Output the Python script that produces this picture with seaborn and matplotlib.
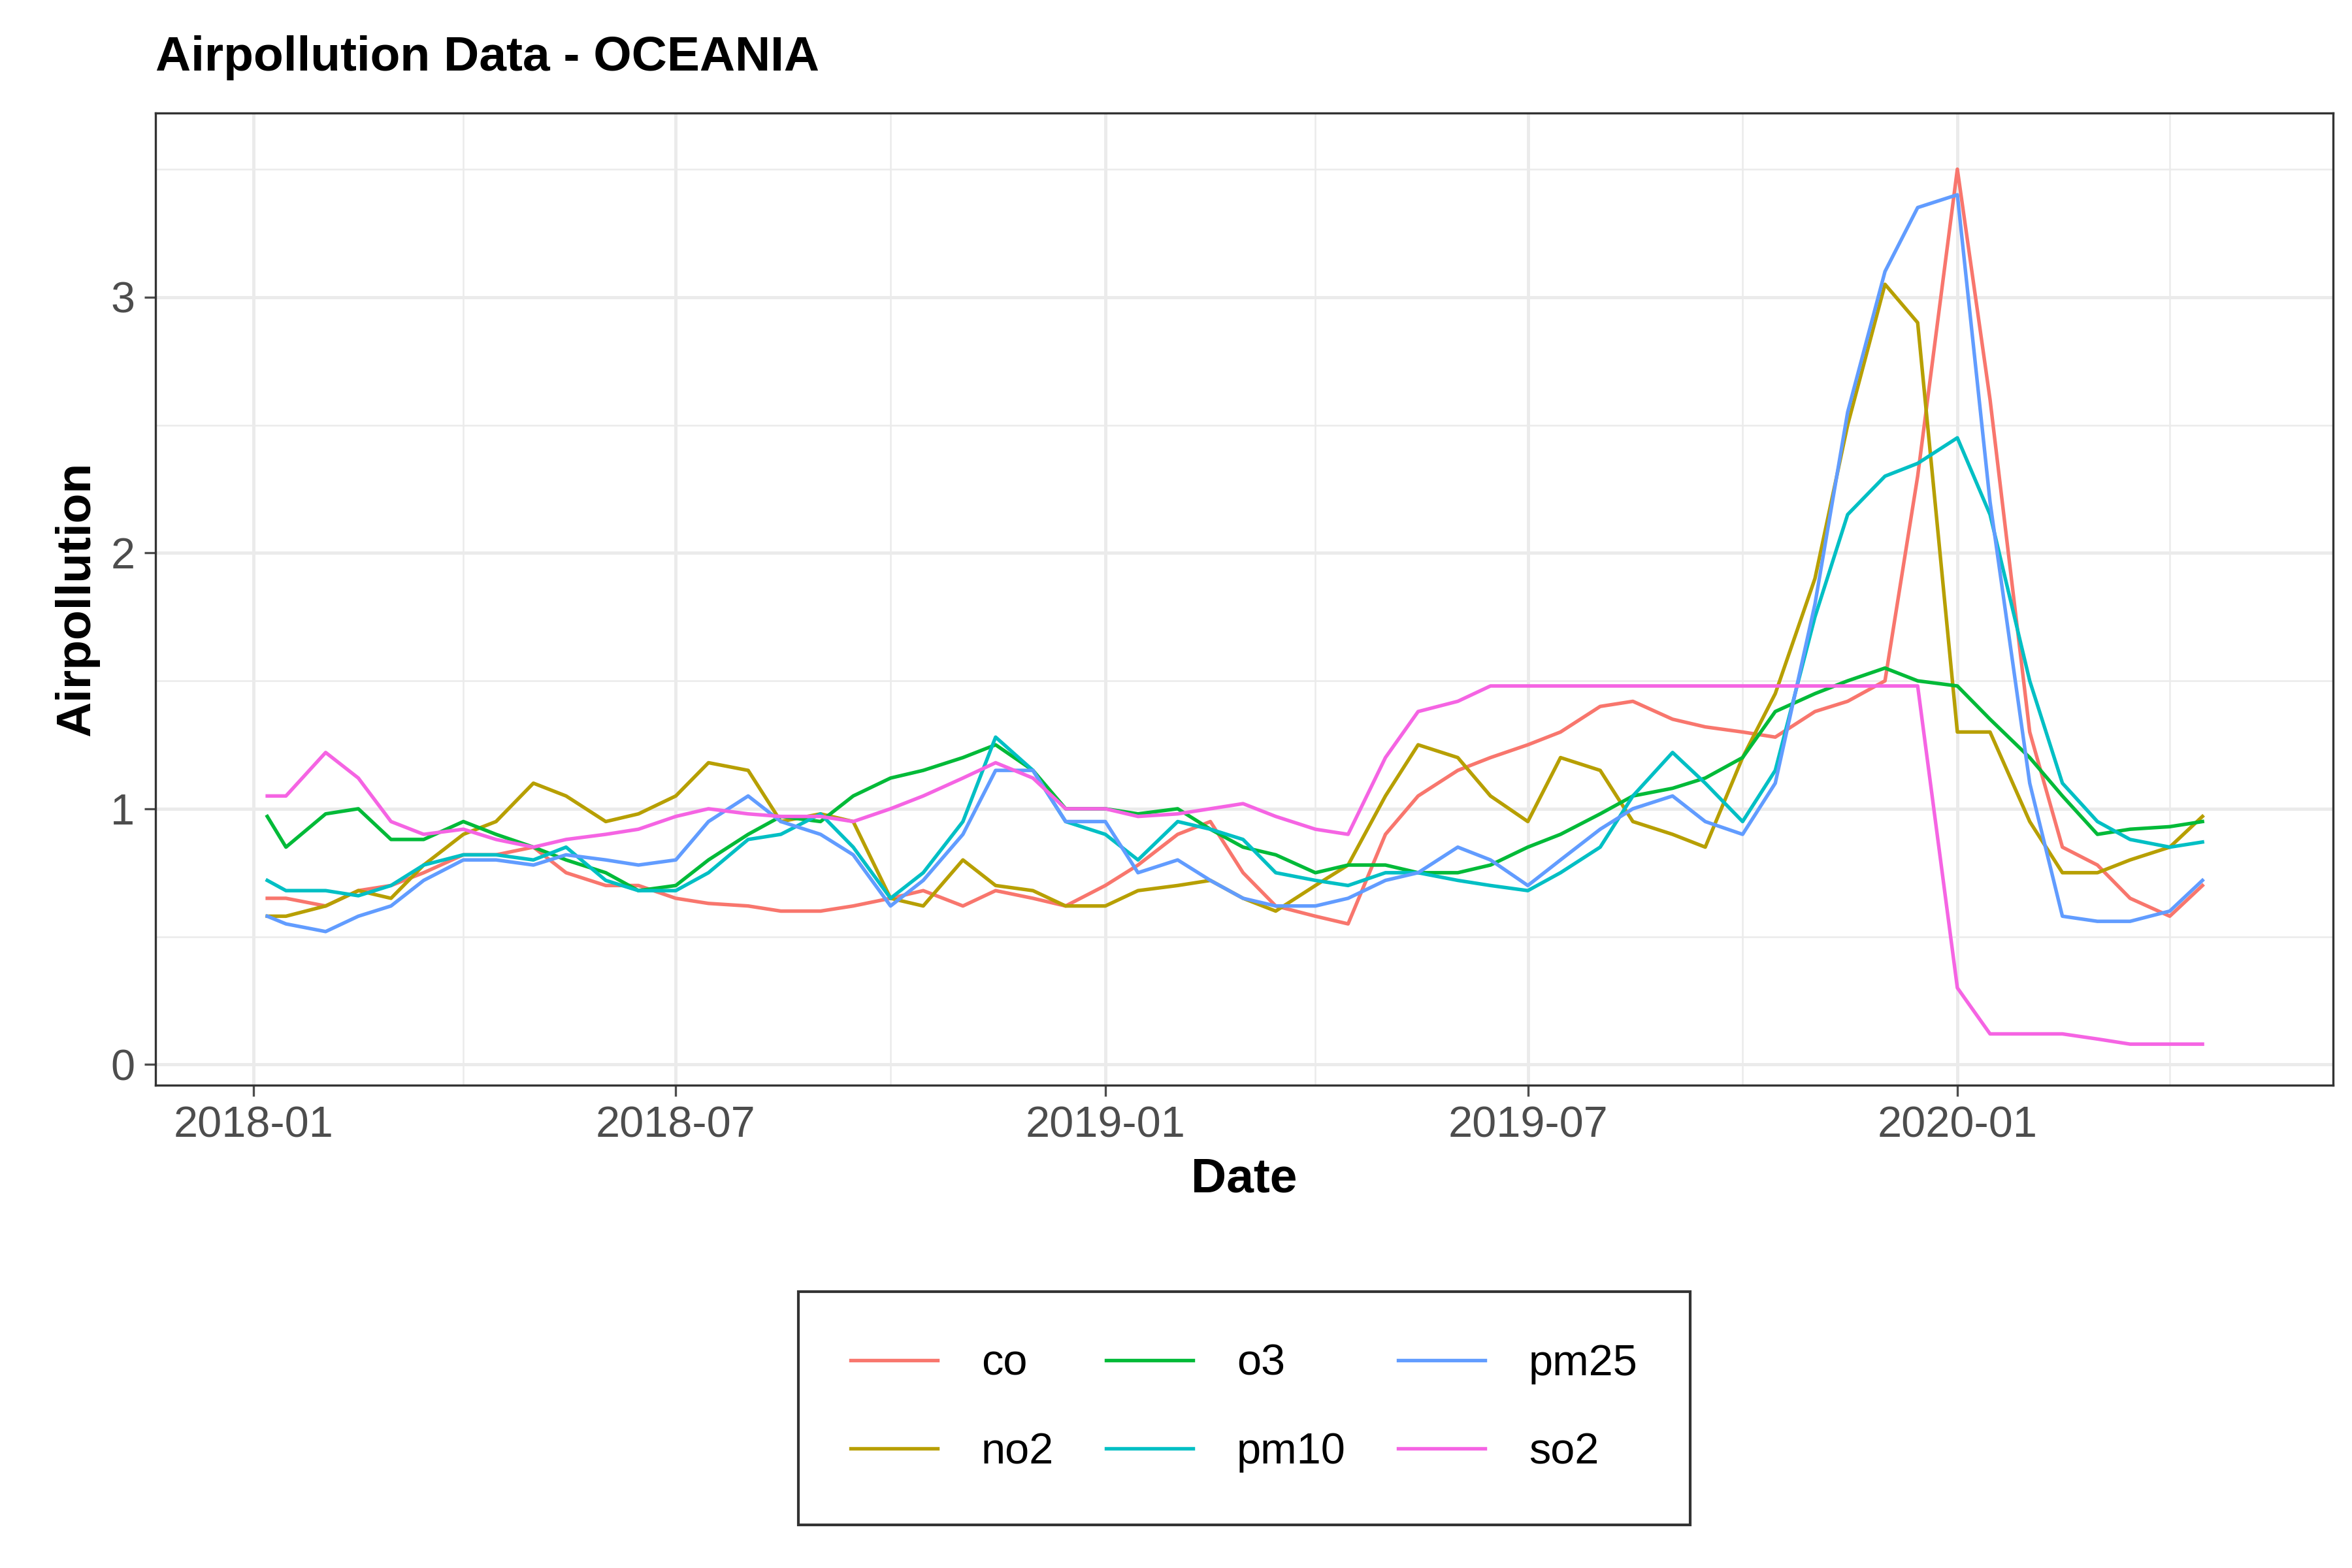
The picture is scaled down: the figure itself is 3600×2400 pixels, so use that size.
import matplotlib

matplotlib.use("Agg")
import matplotlib.pyplot as plt  # noqa: E402
import matplotlib.dates as mdates  # noqa: E402
import seaborn as sns  # noqa: E402
import pandas as pd  # noqa: E402

dates = ["2018-01-07", "2018-01-15"]
for y in (2018, 2019):
    for m in range(1, 13):
        if y == 2018 and m == 1:
            continue
        dates += [f"{y}-{m:02d}-01", f"{y}-{m:02d}-15"]
dates += [f"2020-{m:02d}-{d}" for m in range(1, 5) for d in ("01", "15")]

co = [0.65, 0.65, 0.62, 0.68, 0.70, 0.75, 0.82, 0.82, 0.85, 0.75, 0.70, 0.70,
      0.65, 0.63, 0.62, 0.60, 0.60, 0.62, 0.65, 0.68, 0.62, 0.68, 0.65, 0.62,
      0.70, 0.78, 0.90, 0.95, 0.75, 0.62, 0.58, 0.55, 0.90, 1.05, 1.15, 1.20,
      1.25, 1.30, 1.40, 1.42, 1.35, 1.32, 1.30, 1.28, 1.38, 1.42, 1.50, 2.30,
      3.50, 2.60, 1.30, 0.85, 0.78, 0.65, 0.58, 0.70]
no2 = [0.58, 0.58, 0.62, 0.68, 0.65, 0.78, 0.90, 0.95, 1.10, 1.05, 0.95, 0.98,
       1.05, 1.18, 1.15, 0.95, 0.98, 0.95, 0.65, 0.62, 0.80, 0.70, 0.68, 0.62,
       0.62, 0.68, 0.70, 0.72, 0.65, 0.60, 0.70, 0.78, 1.05, 1.25, 1.20, 1.05,
       0.95, 1.20, 1.15, 0.95, 0.90, 0.85, 1.20, 1.45, 1.90, 2.50, 3.05, 2.90,
       1.30, 1.30, 0.95, 0.75, 0.75, 0.80, 0.85, 0.97]
o3 = [0.97, 0.85, 0.98, 1.00, 0.88, 0.88, 0.95, 0.90, 0.85, 0.80, 0.75, 0.68,
      0.70, 0.80, 0.90, 0.97, 0.95, 1.05, 1.12, 1.15, 1.20, 1.25, 1.15, 1.00,
      1.00, 0.98, 1.00, 0.92, 0.85, 0.82, 0.75, 0.78, 0.78, 0.75, 0.75, 0.78,
      0.85, 0.90, 0.98, 1.05, 1.08, 1.12, 1.20, 1.38, 1.45, 1.50, 1.55, 1.50,
      1.48, 1.35, 1.20, 1.05, 0.90, 0.92, 0.93, 0.95]
pm10 = [0.72, 0.68, 0.68, 0.66, 0.70, 0.78, 0.82, 0.82, 0.80, 0.85, 0.72, 0.68,
        0.68, 0.75, 0.88, 0.90, 0.98, 0.85, 0.65, 0.75, 0.95, 1.28, 1.15, 0.95,
        0.90, 0.80, 0.95, 0.92, 0.88, 0.75, 0.72, 0.70, 0.75, 0.75, 0.72, 0.70,
        0.68, 0.75, 0.85, 1.05, 1.22, 1.10, 0.95, 1.15, 1.75, 2.15, 2.30, 2.35,
        2.45, 2.15, 1.50, 1.10, 0.95, 0.88, 0.85, 0.87]
pm25 = [0.58, 0.55, 0.52, 0.58, 0.62, 0.72, 0.80, 0.80, 0.78, 0.82, 0.80, 0.78,
        0.80, 0.95, 1.05, 0.95, 0.90, 0.82, 0.62, 0.72, 0.90, 1.15, 1.15, 0.95,
        0.95, 0.75, 0.80, 0.72, 0.65, 0.62, 0.62, 0.65, 0.72, 0.75, 0.85, 0.80,
        0.70, 0.80, 0.92, 1.00, 1.05, 0.95, 0.90, 1.10, 1.80, 2.55, 3.10, 3.35,
        3.40, 2.20, 1.10, 0.58, 0.56, 0.56, 0.60, 0.72]
so2 = [1.05, 1.05, 1.22, 1.12, 0.95, 0.90, 0.92, 0.88, 0.85, 0.88, 0.90, 0.92,
       0.97, 1.00, 0.98, 0.97, 0.97, 0.95, 1.00, 1.05, 1.12, 1.18, 1.12, 1.00,
       1.00, 0.97, 0.98, 1.00, 1.02, 0.97, 0.92, 0.90, 1.20, 1.38, 1.42, 1.48,
       1.48, 1.48, 1.48, 1.48, 1.48, 1.48, 1.48, 1.48, 1.48, 1.48, 1.48, 1.48,
       0.30, 0.12, 0.12, 0.12, 0.10, 0.08, 0.08, 0.08]

series = {"co": co, "no2": no2, "o3": o3, "pm10": pm10, "pm25": pm25, "so2": so2}
palette = {"co": "#F8766D", "no2": "#B79F00", "o3": "#00BA38",
           "pm10": "#00BFC4", "pm25": "#619CFF", "so2": "#F564E3"}

df = pd.concat(
    [pd.DataFrame({"Date": pd.to_datetime(dates), "Airpollution": v, "key": k})
     for k, v in series.items()],
    ignore_index=True,
)

plt.rcParams["font.family"] = ["Liberation Sans", "DejaVu Sans"]
fig = plt.figure(figsize=(12, 8), dpi=300)
ax = fig.add_axes([0.066, 0.308, 0.926, 0.62])
sns.lineplot(data=df, x="Date", y="Airpollution", hue="key", palette=palette,
             linewidth=1.3, ax=ax)

ax.set_xlim(pd.Timestamp("2017-11-20"), pd.Timestamp("2020-06-10"))
ax.set_ylim(-0.08, 3.72)
ax.set_yticks([0, 1, 2, 3])
ax.set_yticks([0.5, 1.5, 2.5, 3.5], minor=True)
ax.xaxis.set_major_locator(mdates.MonthLocator(bymonth=[1, 7]))
ax.xaxis.set_minor_locator(mdates.MonthLocator(bymonth=[4, 10]))
ax.xaxis.set_major_formatter(mdates.DateFormatter("%Y-%m"))
ax.grid(which="major", color="#EBEBEB", linewidth=1.2)
ax.grid(which="minor", color="#EBEBEB", linewidth=0.6)
ax.set_axisbelow(True)
for s in ax.spines.values():
    s.set_color("#333333")
ax.tick_params(which="major", labelsize=16, colors="#4D4D4D", length=4)
ax.tick_params(which="minor", length=0)
ax.set_xlabel("Date", fontsize=18, fontweight="bold")
ax.set_ylabel("Airpollution", fontsize=18, fontweight="bold")
fig.text(0.066, 0.955, "Airpollution Data - OCEANIA", fontsize=18,
         fontweight="bold", ha="left")

handles, labels = ax.get_legend_handles_labels()
ax.legend(handles, labels, ncol=3, loc="upper center",
          bbox_to_anchor=(0.5, -0.19), fontsize=16, frameon=True, fancybox=False,
          edgecolor="black", borderpad=1.2, handlelength=2.0, labelspacing=1.1,
          columnspacing=1.2, handletextpad=1.0)

fig.savefig("out.png", dpi=300)
plt.close(fig)
